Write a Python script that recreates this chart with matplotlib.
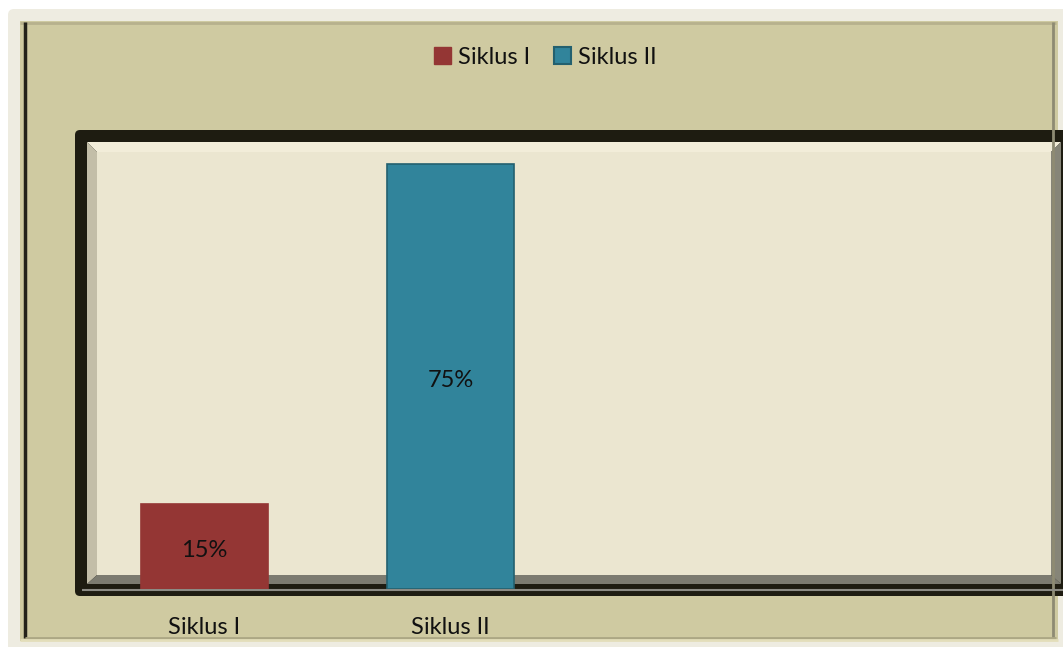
import matplotlib
matplotlib.use('Agg')
import matplotlib.pyplot as plt
import matplotlib.transforms as mtransforms
from matplotlib.patches import Rectangle, Polygon, FancyBboxPatch, Patch

plt.rcParams['font.family'] = ['Lato', 'DejaVu Sans']

# data
categories = ['Siklus I', 'Siklus II']
values = [15, 75]
bar_colors = ['#943634', '#31849B']
edge_colors = ['#943634', '#23606F']

W, H = 1063, 647
fig = plt.figure(figsize=(W / 100, H / 100), dpi=100, facecolor='white')

# background drawn in pixel coordinates
bg = fig.add_axes([0, 0, 1, 1])
bg.set_xlim(0, W)
bg.set_ylim(H, 0)
bg.axis('off')

bg.add_patch(FancyBboxPatch((8, 9), W + 20, H + 20, boxstyle='round,pad=0,rounding_size=6',
                            facecolor='#EEECE1', edgecolor='none'))
bg.add_patch(Rectangle((20, 21), 1038, 620, facecolor='#CFCAA1', edgecolor='none'))
# bevel of the chart area
bg.plot([20, 1056], [23, 23], color='#B7B18D', lw=2, solid_capstyle='butt')
bg.plot([25, 25], [22, 638], color='#24221A', lw=2.5, solid_capstyle='butt')
bg.plot([1053, 1053], [22, 640], color='#8E8B73', lw=2, solid_capstyle='butt')
bg.plot([25, 1056], [637.5, 637.5], color='#ACA784', lw=2, solid_capstyle='butt')
bg.plot([20, 1058], [640, 640], color='#E3DEBA', lw=2, solid_capstyle='butt')

# dark plot frame
bg.add_patch(FancyBboxPatch((75, 130), 1000, 466, boxstyle='round,pad=0,rounding_size=5',
                            facecolor='#1E1C11', edgecolor='none'))
# walls and floor
bg.add_patch(Polygon([(87, 142), (1061, 142), (1051, 152), (97, 152)],
                     closed=True, facecolor='#F2EDD9', edgecolor='none'))
bg.add_patch(Rectangle((97, 152), 954, 423, facecolor='#EBE6D0', edgecolor='none'))
bg.add_patch(Polygon([(87, 142), (97, 152), (97, 575), (87, 584)],
                     closed=True, facecolor='#C3BEA8', edgecolor='none'))
bg.add_patch(Polygon([(1061, 142), (1061, 584), (1051, 575), (1051, 152)],
                     closed=True, facecolor='#868578', edgecolor='none'))
bg.add_patch(Polygon([(87, 584), (97, 575), (1051, 575), (1061, 584)],
                     closed=True, facecolor='#7C7B70', edgecolor='none'))
bg.plot([82, W], [589.5, 589.5], color='#8C8B84', lw=1.5, solid_capstyle='butt', zorder=5)

# data axes: zero line at y=589 px, top of wall at y=142 px
x0, x1, y0, y1 = 87, 1061, 589, 142
ax = fig.add_axes([x0 / W, 1 - y0 / H, (x1 - x0) / W, (y0 - y1) / H])
ax.patch.set_alpha(0)
px_per_unit = 425 / 75
ax.set_ylim(0, (y0 - y1) / px_per_unit)
spacing = 246
ax.set_xlim(-(204.5 - x0) / spacing, (x1 - 204.5) / spacing)

pos = list(range(len(categories)))
ax.bar(pos, values, width=127 / spacing, color=bar_colors, edgecolor=edge_colors, linewidth=1.2, zorder=3)
shift = mtransforms.offset_copy(ax.transData, fig=fig, x=0, y=-4, units='dots')
for p, v in zip(pos, values):
    ax.text(p, v / 2, f'{v}%', ha='center', va='center', fontsize=17, color='#111111',
            zorder=4, transform=shift)

ax.set_xticks(pos)
ax.set_xticklabels(categories, fontsize=17, color='#111111')
ax.tick_params(axis='x', length=0, pad=20)
ax.set_yticks([])
for s in ax.spines.values():
    s.set_visible(False)

handles = [Patch(facecolor=bar_colors[0], edgecolor=bar_colors[0], label=categories[0]),
           Patch(facecolor=bar_colors[1], edgecolor=edge_colors[1], linewidth=1.5, label=categories[1])]
fig.legend(handles=handles, loc='center', bbox_to_anchor=(545 / W, 1 - 57 / H), ncol=2,
           frameon=False, fontsize=17, handlelength=0.72, handleheight=0.72,
           handletextpad=0.3, columnspacing=1.0, labelcolor='#111111')

fig.savefig('out.png', dpi=100, facecolor='white')
